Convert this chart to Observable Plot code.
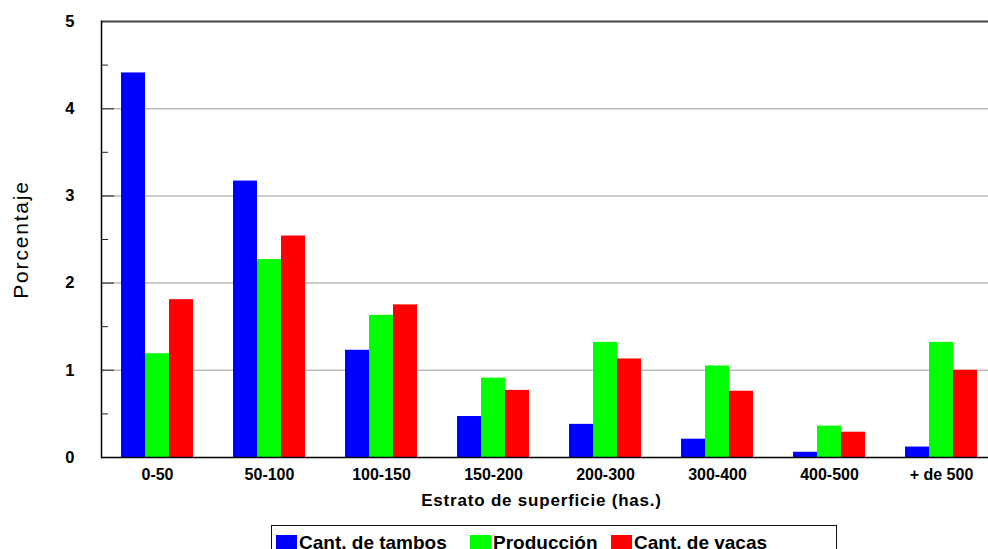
<!DOCTYPE html>
<html>
<head>
<meta charset="utf-8">
<script src="https://cdn.jsdelivr.net/npm/d3@7"></script>
<script src="https://cdn.jsdelivr.net/npm/@observablehq/plot@0.6"></script>
<style>
  html, body { margin: 0; padding: 0; background: #fff; }
  #wrap { position: relative; width: 988px; height: 549px; overflow: hidden; font-family: "Liberation Sans", Arial, sans-serif; }
  #chart { position: absolute; left: 0; top: 0; width: 998px; }
  #chart svg { max-width: none !important; }
  g[aria-label="y-axis label"] text { letter-spacing: 1.8px; }
  g[aria-label="fx-axis label"] { translate: -8px 0; }
  g[aria-label="fx-axis label"] text { letter-spacing: 0.8px; }
  #legend { position: absolute; left: 271px; top: 525px; width: 566px; height: 40px; border: 1px solid #111; box-sizing: border-box; }
  .item { position: absolute; top: 7px; display: flex; align-items: flex-start; font-weight: bold; font-size: 19px; line-height: 19px; color: #000; white-space: nowrap; }
  .sw { width: 21px; height: 15px; margin-right: 2px; margin-top: 2px; }
</style>
</head>
<body>
<div id="wrap">
  <div id="chart"></div>
  <div id="legend"></div>
</div>
<script>
const categories = ["0-50", "50-100", "100-150", "150-200", "200-300", "300-400", "400-500", "+ de 500"];
const series = ["Cant. de tambos", "Producción", "Cant. de vacas"];
const tambos     = [4.41, 3.17, 1.23, 0.47, 0.38, 0.21, 0.06, 0.12];
const produccion = [1.19, 2.27, 1.63, 0.91, 1.32, 1.05, 0.36, 1.32];
const vacas      = [1.81, 2.54, 1.75, 0.77, 1.13, 0.76, 0.29, 1.00];
const colors = ["#0000ff", "#00ff00", "#ff0000"];
const yTicks = [0, 1, 2, 3, 4, 5];
const gridTicks = [1, 2, 3, 4];
const minorTicks = [0.5, 1.5, 2.5, 3.5, 4.5];
const legendLeft = [4, 198, 339];

const seriesValues = [tambos, produccion, vacas];
const data = categories.flatMap((cat, i) =>
  series.map((serie, j) => ({cat, serie, value: seriesValues[j][i]}))
);

const H = 520;
const chart = Plot.plot({
  width: 998,
  height: H,
  marginLeft: 100,
  marginRight: 0,
  marginTop: 21,
  marginBottom: H - 457,
  style: {fontFamily: "'Liberation Sans', Arial, sans-serif", color: "#000", background: "#fff", overflow: "visible", maxWidth: "none"},
  fx: {domain: categories, padding: 0, label: null, axis: null},
  x: {domain: series, paddingInner: 0, paddingOuter: 0.79, axis: null},
  y: {domain: [0, 5], axis: null},
  color: {domain: series, range: colors},
  marks: [
    Plot.ruleY(gridTicks, {stroke: "#bdbdbd", strokeWidth: 1.5}),
    Plot.barY(data, {fx: "cat", x: "serie", y: "value", fill: "serie"}),
    Plot.axisY({ticks: gridTicks, tickSize: -13, fill: "none", stroke: "#555", strokeWidth: 1.5, label: null}),
    Plot.axisY({ticks: minorTicks, tickSize: -7, fill: "none", stroke: "#222", label: null}),
    Plot.axisY({ticks: yTicks, tickSize: 0, tickPadding: 27, tickFormat: d3.format("d"), fontSize: 16.5, fontWeight: "bold", label: null}),
    Plot.axisY({ticks: [], tickSize: 0, label: "Porcentaje", labelAnchor: "center", labelOffset: 88, labelArrow: "none", fontSize: 21}),
    Plot.ruleY([0], {stroke: "#000", strokeWidth: 1.5}),
    Plot.ruleY([5], {stroke: "#444", strokeWidth: 2}),
    Plot.frame({anchor: "left", fx: [categories[0]], stroke: "#000", strokeWidth: 1.5}),
    Plot.axisFx({anchor: "bottom", tickSize: 0, tickPadding: 11, fontSize: 16, fontWeight: "bold", label: null}),
    Plot.axisFx({anchor: "bottom", ticks: [], tickSize: 0, fontSize: 17, fontWeight: "bold", label: "Estrato de superficie (has.)", labelAnchor: "center", labelOffset: 48, labelArrow: "none"})
  ]
});
document.getElementById("chart").appendChild(chart);

const legend = document.getElementById("legend");
series.forEach((s, j) => {
  const item = document.createElement("div");
  item.className = "item";
  item.style.left = legendLeft[j] + "px";
  const sw = document.createElement("div");
  sw.className = "sw";
  sw.style.background = colors[j];
  const t = document.createElement("span");
  t.textContent = s;
  item.appendChild(sw);
  item.appendChild(t);
  legend.appendChild(item);
});
</script>
</body>
</html>
